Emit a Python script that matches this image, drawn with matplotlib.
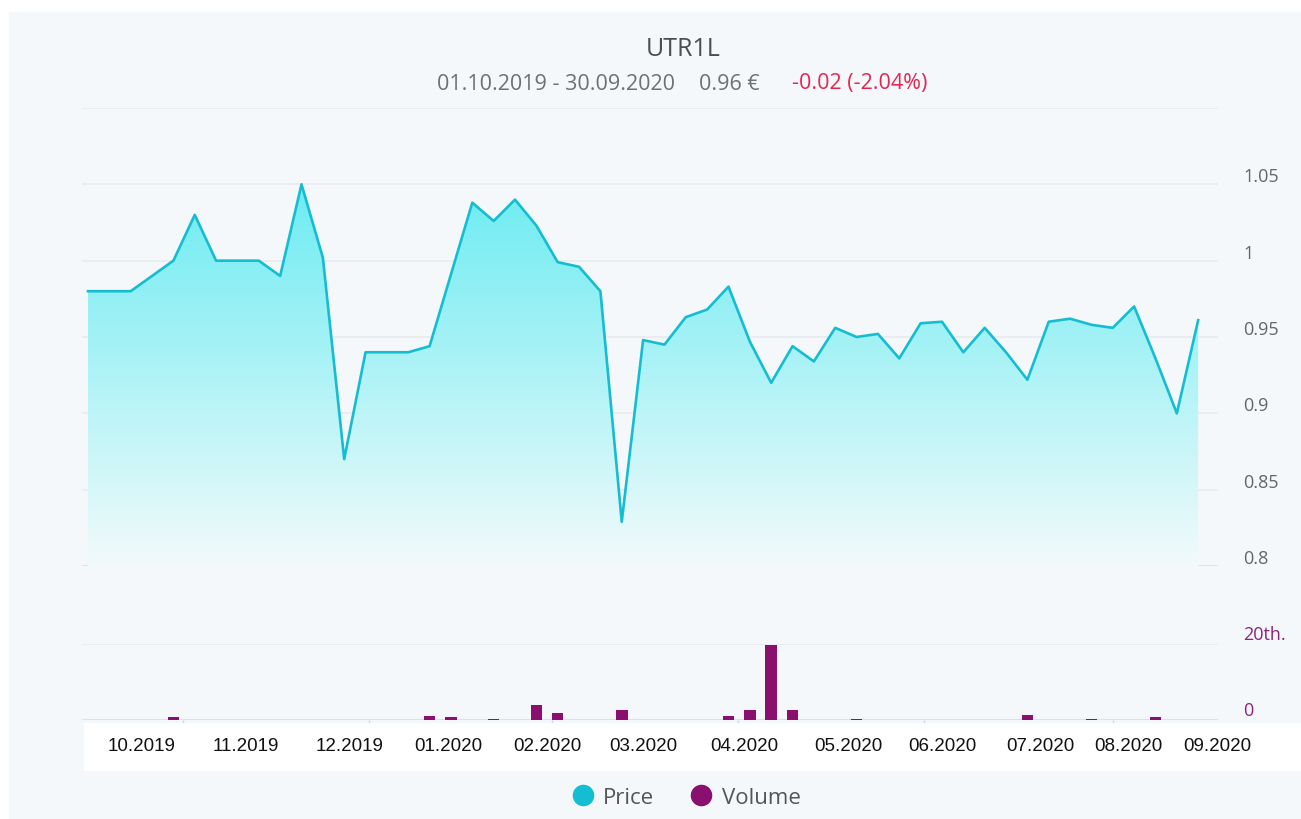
import matplotlib
matplotlib.use("Agg")
import matplotlib.pyplot as plt
import matplotlib.dates as mdates
from matplotlib.transforms import offset_copy
from matplotlib.lines import Line2D
from matplotlib.patches import Rectangle
import numpy as np
import pandas as pd

# data (weekly closes + volume)
dates = pd.date_range("2019-10-01", periods=53, freq="7D")
price = [0.98, 0.98, 0.98, 0.99, 1.0, 1.03, 1.0, 1.0, 1.0, 0.99, 1.05, 1.002,
         0.87, 0.94, 0.94, 0.94, 0.944, 0.991, 1.038, 1.026, 1.04, 1.023, 0.999,
         0.996, 0.98, 0.829, 0.948, 0.945, 0.963, 0.968, 0.983, 0.947, 0.92,
         0.944, 0.934, 0.956, 0.95, 0.952, 0.936, 0.959, 0.96, 0.94, 0.956,
         0.94, 0.922, 0.96, 0.962, 0.958, 0.956, 0.97, 0.936, 0.9, 0.961]
volume = [0, 0, 0, 0, 700, 0, 0, 0, 0, 0, 0, 0, 0, 0, 0, 0, 1100, 700, 0, 150,
          0, 4000, 1750, 0, 0, 2600, 0, 0, 0, 0, 1100, 2600, 19650, 2600, 0, 0,
          150, 0, 0, 0, 0, 0, 0, 0, 1200, 0, 0, 150, 0, 0, 700, 0, 0]
price_ticks = [0.8, 0.85, 0.9, 0.95, 1.0, 1.05]
price_tick_labels = ["0.8", "0.85", "0.9", "0.95", "1", "1.05"]
vol_ticks = [0, 20000]
vol_tick_labels = ["0", "20th."]
month_labels = ["10.2019", "11.2019", "12.2019", "01.2020", "02.2020", "03.2020",
                "04.2020", "05.2020", "06.2020", "07.2020", "08.2020", "09.2020"]

# layout (pixels)
W, H = 1301, 819
BG = "#f4f8fb"
CYAN = "#14bdd1"
PURPLE = "#8a0f6f"
label_px = [142, 246, 350, 448, 547, 643, 744, 848, 942, 1040, 1128, 1217]

plt.rcParams["font.family"] = ["Open Sans", "DejaVu Sans"]

fig = plt.figure(figsize=(W / 100, H / 100), dpi=100, facecolor="white")
fig.patches.append(Rectangle((9 / W, 0), 1, 1 - 12 / H, transform=fig.transFigure,
                             color=BG, zorder=-10))

x = mdates.date2num(dates)
x0 = x[0]
xlim = (x0 - 1.97, x0 + 370.5)

# price panel
ax = fig.add_axes([82 / W, 1 - 566 / H, 1136 / W, 458 / H])
ax.set_facecolor("none")
ax.set_xlim(xlim)
ax.set_ylim(0.8, 1.1)
ax.set_yticks(price_ticks + [1.1])
ax.yaxis.grid(True, color="#e6e9ee", lw=1.1)
ax.set_axisbelow(True)
ax.tick_params(left=False, labelleft=False, bottom=False, labelbottom=False)
ax.set_xticks([])
for s in ax.spines.values():
    s.set_visible(False)
ax.axhline(0.8, color="#dfe1e8", lw=2, zorder=1)

fill = ax.fill_between(x, price, 0.8, color="none", lw=0)
top = np.array([108, 236, 242]) / 255
bot = np.array([242, 250, 251]) / 255
t = np.linspace(0, 1, 256)[:, None]
grad = (bot * (1 - t) + top * t)[:, None, :]
im = ax.imshow(grad, extent=[x[0], x[-1], 0.8, 1.05], origin="lower",
               aspect="auto", zorder=2)
im.set_clip_path(fill.get_paths()[0], transform=ax.transData)
ax.plot(x, price, color=CYAN, lw=1.9, zorder=3)

lab_tr = offset_copy(ax.get_yaxis_transform(), fig=fig, y=7, units="dots")
for v, lbl in zip(price_ticks, price_tick_labels):
    ax.text(1.022, v, lbl, transform=lab_tr, ha="left", va="center",
            fontsize=13, color="#666666")

# volume panel
axv = fig.add_axes([82 / W, 1 - 720 / H, 1136 / W, 76 / H])
axv.set_facecolor("none")
axv.set_xlim(xlim)
axv.set_ylim(0, 20000)
axv.set_yticks([20000])
axv.yaxis.grid(True, color="#e6e9ee", lw=1.1)
axv.tick_params(left=False, labelleft=False, labelbottom=False,
                length=4, color="#ccd6eb", width=1)
axv.xaxis.set_major_locator(mdates.MonthLocator(bymonth=[1, 3, 5, 7, 9, 11]))
for s in axv.spines.values():
    s.set_visible(False)
axv.axhline(0, color="#d9e0ee", lw=2.2, zorder=1)
axv.bar(x, volume, width=3.8, color=PURPLE, zorder=3)

vlab_tr = offset_copy(axv.get_yaxis_transform(), fig=fig, y=9, units="dots")
for v, lbl in zip(vol_ticks, vol_tick_labels):
    axv.text(1.022, v, lbl, transform=vlab_tr, ha="left", va="center",
             fontsize=13, color="#8e2281")

# month label strip
axb = fig.add_axes([84 / W, 1 - 771 / H, (W - 84) / W, 48 / H])
axb.set_facecolor("white")
axb.set_xlim(84, W)
axb.set_ylim(0, 1)
axb.set_xticks([])
axb.set_yticks([])
for s in axb.spines.values():
    s.set_visible(False)
for px, lbl in zip(label_px, month_labels):
    axb.text(px, 0.52, lbl, ha="center", va="center", fontsize=13.5,
             family="Liberation Sans", color="#111111")

# title
fig.text(683 / W, 1 - 49 / H, "UTR1L", ha="center", va="center",
         fontsize=18, color="#4d4d4d")
sub_y = 1 - 84 / H
fig.text(437 / W, sub_y, "01.10.2019 - 30.09.2020", ha="left", va="center",
         fontsize=15.5, color="#707070")
fig.text(699 / W, sub_y, "0.96 €", ha="left", va="center",
         fontsize=15.5, color="#707070")
fig.text(792 / W, sub_y, "-0.02 (-2.04%)", ha="left", va="center",
         fontsize=15.5, color="#e8254f")

# legend
leg_y = 1 - 795 / H
for cx, tx, col, name in [(583, 603, CYAN, "Price"), (701, 722, PURPLE, "Volume")]:
    fig.add_artist(Line2D([cx / W], [leg_y], marker="o", ls="", ms=14.5,
                          color=col, transform=fig.transFigure))
    fig.text(tx / W, leg_y - 3 / H, name, ha="left", va="center", fontsize=16,
             color="#555555")

fig.savefig("out.png", dpi=100, facecolor=fig.get_facecolor())
